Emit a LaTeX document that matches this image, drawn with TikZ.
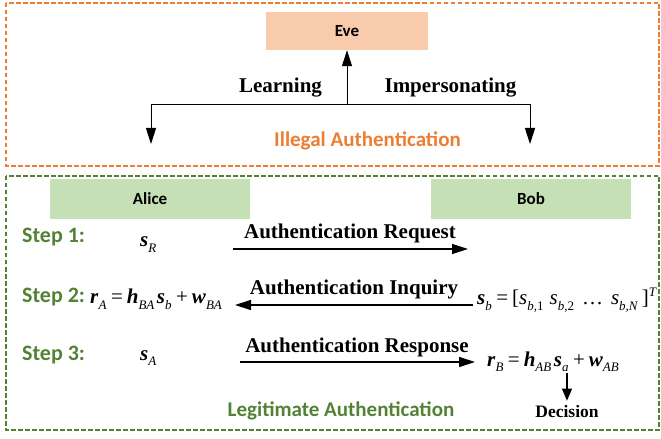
\documentclass[tikz,border=0pt]{standalone}
\usepackage{fontspec}
\setmainfont{Liberation Serif}
\newfontfamily\carl{Carlito}
\usetikzlibrary{arrows.meta}
\definecolor{orng}{HTML}{ED7D31}
\definecolor{grn}{HTML}{548235}
\definecolor{peach}{HTML}{F8CBAD}
\definecolor{lgrn}{HTML}{C5E0B4}
\newcommand{\bv}[1]{\textbf{\textit{#1}}}
\newcommand{\sbx}[1]{\raisebox{-5.5bp}{\fontsize{13bp}{13bp}\selectfont\textit{#1}}}
\newcommand{\spx}[1]{\raisebox{8bp}{\fontsize{13bp}{13bp}\selectfont\textit{#1}}}
\newcommand{\rel}[1]{\hspace{4.5bp}#1\hspace{4bp}}
\begin{document}
\begin{tikzpicture}[x=1bp,y=-1bp,
  tnr/.style={font=\fontsize{21bp}{25bp}\selectfont\bfseries, inner sep=0pt, anchor=base},
  sans/.style={font=\fontsize{21bp}{25bp}\selectfont\carl\bfseries, inner sep=0pt, anchor=base},
  eq/.style={font=\fontsize{21bp}{25bp}\selectfont, inner sep=0pt, anchor=base west},
  party/.style={font=\fontsize{17bp}{20bp}\selectfont\carl\bfseries, minimum width=200bp, minimum height=40bp, inner sep=0pt},
  arr/.style={line width=1.3bp, -{Triangle[length=16bp,width=10bp]}},
  dashbox/.style={dash pattern=on 4.5bp off 2.5bp, line width=2.3bp}
]
\useasboundingbox (0,0) rectangle (661,439);
% frames
\draw[dashbox, orng] (6,3) rectangle (659,166);
\draw[dashbox, grn] (6,176) rectangle (659,430);
% Eve part
\node[party, fill=peach, minimum width=162bp, minimum height=38bp] (eve) at (347,31) {Eve};
\coordinate (fork) at (347,105);
\coordinate (ltend) at (151,144);
\coordinate (rtend) at (530,144);
\draw[arr, line width=1bp] (fork) -- (eve.south);
\draw[arr, line width=1bp] (fork) -| (ltend);
\draw[arr, line width=1bp] (fork) -| (rtend);
\node[tnr] (learn) at (280.5,93) {Learning};
\node[tnr] (imp) at (450.5,93) {Impersonating};
\node[sans, text=orng] (illegal) at (367.5,147) {Illegal Authentication};
% parties
\node[party, fill=lgrn] (alice) at (150,199) {Alice};
\node[party, fill=lgrn] (bob) at (531,199) {Bob};
% steps
\node[sans, text=grn, anchor=base west, font=\fontsize{22bp}{25bp}\selectfont\carl\bfseries] (st1) at (22,243) {Step 1:};
\node[sans, text=grn, anchor=base west, font=\fontsize{22bp}{25bp}\selectfont\carl\bfseries] (st2) at (22,303) {Step 2:};
\node[sans, text=grn, anchor=base west, font=\fontsize{22bp}{25bp}\selectfont\carl\bfseries] (st3) at (22,360) {Step 3:};
% equations
\node[eq] (sr) at (140,247) {\bv{s}\sbx{R}};
\node[eq] (sa) at (140,360) {\bv{s}\sbx{A}};
\node[eq] (ra) at (90,304) {\bv{r}\sbx{A}\rel{=}\bv{h}\sbx{BA}\hspace{2.5bp}\bv{s}\sbx{b}\rel{+}\bv{w}\sbx{BA}};
\node[eq] (sb) at (477,305) {\bv{s}\sbx{b}\rel{=}[\textit{s}\sbx{b,}\raisebox{-5.5bp}{\fontsize{13bp}{13bp}\selectfont 1}\hspace{6bp}\textit{s}\sbx{b,}\raisebox{-5.5bp}{\fontsize{13bp}{13bp}\selectfont 2}\hspace{8bp}\ldots\hspace{8bp}\textit{s}\sbx{b,N}\,]\spx{T}};
\node[eq] (rb) at (487,366) {\bv{r}\sbx{B}\rel{=}\bv{h}\sbx{AB}\hspace{2.5bp}\bv{s}\sbx{a}\rel{+}\bv{w}\sbx{AB}};
% messages
\node[tnr] (req) at (350,239) {Authentication Request};
\node[tnr] (inq) at (354,295) {Authentication Inquiry};
\node[tnr] (resp) at (357,352) {Authentication Response};
\coordinate (rq1) at (233,249); \coordinate (rq2) at (468,249);
\coordinate (iq1) at (473,305); \coordinate (iq2) at (235,305);
\coordinate (rs1) at (240,362); \coordinate (rs2) at (475,362);
\draw[arr] (rq1) -- (rq2);
\draw[arr] (iq1) -- (iq2);
\draw[arr] (rs1) -- (rs2);
% decision
\node[font=\fontsize{17.5bp}{20bp}\selectfont\bfseries, inner sep=0pt, anchor=base] (dec) at (567,417) {Decision};
\coordinate (dtop) at (567,373);
\draw[line width=1.3bp, -{Triangle[length=12bp,width=10bp]}] (dtop) -- ([yshift=4bp]dec.north);
\node[sans, text=grn] (legit) at (341,416) {Legitimate Authentication};
\end{tikzpicture}
\end{document}
